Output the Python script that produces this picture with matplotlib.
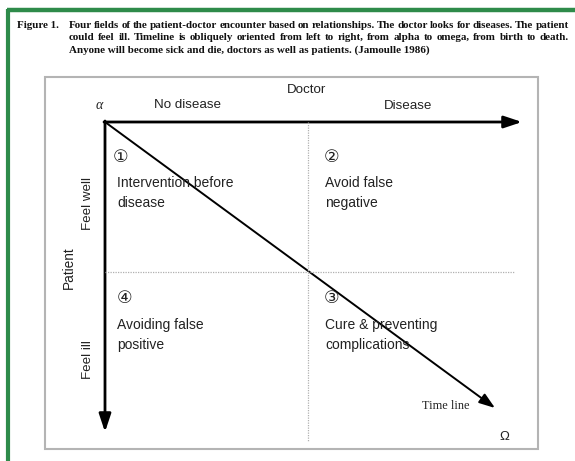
import matplotlib
matplotlib.use("Agg")
import matplotlib.pyplot as plt
from matplotlib.patches import FancyArrowPatch, Rectangle

# ---- content ----
caption_label = "Figure 1."
caption_lines = [
    "Four fields of the patient-doctor encounter based on relationships. The doctor looks for diseases. The patient",
    "could feel ill. Timeline is obliquely oriented from left to right, from alpha to omega, from birth to death.",
    "Anyone will become sick and die, doctors as well as patients. (Jamoulle 1986)",
]
x_axis_title = "Doctor"
x_categories = ["No disease", "Disease"]
y_axis_title = "Patient"
y_categories = ["Feel well", "Feel ill"]
quadrant_numbers = ["\u2460", "\u2461", "\u2463", "\u2462"]   # TL, TR, BL, BR
quadrant_texts = [
    ["Intervention before", "disease"],
    ["Avoid false", "negative"],
    ["Avoiding false", "positive"],
    ["Cure & preventing", "complications"],
]
timeline_label = "Time line"
start_symbol = "\u03b1"
end_symbol = "\u03a9"

W, H = 575, 461
fig = plt.figure(figsize=(W / 100, H / 100), dpi=100)
ax = fig.add_axes([0, 0, 1, 1])
ax.set_xlim(0, W)
ax.set_ylim(H, 0)
ax.axis("off")

SANS = ["Liberation Sans", "DejaVu Sans"]
SERIF = ["Liberation Serif", "DejaVu Serif"]

# green frame (top and left)
green = "#2e8b4a"
ax.plot([7, W], [10.5, 10.5], color=green, lw=3.2, solid_capstyle="butt")
ax.plot([7.5, 7.5], [9, H], color=green, lw=3.0, solid_capstyle="butt")

# caption
cap_fs = 7.9
ax.text(17, 28, caption_label, fontsize=cap_fs, fontweight="bold", family=SERIF,
        va="baseline", ha="left", color="#111111")
fig.canvas.draw()
renderer = fig.canvas.get_renderer()


def text_width(s):
    t = ax.text(0, 0, s, fontsize=cap_fs, fontweight="bold", family=SERIF)
    bb = t.get_window_extent(renderer=renderer)
    t.remove()
    return bb.width  # pixels == data units here


x0, x1 = 69, 569
baselines = [28, 40.5, 53]
for i, line in enumerate(caption_lines):
    if i < len(caption_lines) - 1:
        words = line.split(" ")
        widths = [text_width(w) for w in words]
        gap = max((x1 - x0 - sum(widths)) / (len(words) - 1), 1.5)
        x = x0
        for w, wd in zip(words, widths):
            ax.text(x, baselines[i], w, fontsize=cap_fs, fontweight="bold", family=SERIF,
                    va="baseline", ha="left", color="#111111")
            x += wd + gap
    else:
        ax.text(x0, baselines[i], line, fontsize=cap_fs, fontweight="bold", family=SERIF,
                va="baseline", ha="left", color="#111111")

# inner box
ax.add_patch(Rectangle((45, 77), 538 - 45, 449 - 77, fill=False, ec="#b4b4b4", lw=1.5))

# origin / geometry
ox, oy = 105, 122
mx, my = 308, 272

# dotted dividers
ax.plot([mx, mx], [oy, 442], color="#b0b0b0", lw=0.9, ls=(0, (1, 1)))
ax.plot([ox, 515], [my, my], color="#b0b0b0", lw=0.9, ls=(0, (1, 1)))

# axis arrows
arrow_kw = dict(arrowstyle="-|>,head_length=0.9,head_width=0.3", color="black", lw=2.0,
                shrinkA=0, shrinkB=0, mutation_scale=12)
ax.add_patch(FancyArrowPatch((ox - 1, oy), (522, oy), **arrow_kw))
ax.add_patch(FancyArrowPatch((ox, oy - 1), (ox, 432), **arrow_kw))
# timeline
ax.add_patch(FancyArrowPatch((ox, oy), (495, 408),
                             arrowstyle="-|>,head_length=0.8,head_width=0.28", color="black",
                             lw=1.4, shrinkA=0, shrinkB=0, mutation_scale=12))

# headings
tc = "#222222"
ax.text(307, 90, x_axis_title, fontsize=9.6, family=SANS, ha="center", va="center", color=tc)
ax.text(188, 105, x_categories[0], fontsize=9.6, family=SANS, ha="center", va="center", color=tc)
ax.text(408, 106, x_categories[1], fontsize=9.6, family=SANS, ha="center", va="center", color=tc)
ax.text(69, 268, y_axis_title, fontsize=9.8, family=SANS, ha="center", va="center", rotation=90, color=tc)
ax.text(88, 203, y_categories[0], fontsize=9.6, family=SANS, ha="center", va="center", rotation=90, color=tc)
ax.text(88, 360, y_categories[1], fontsize=9.6, family=SANS, ha="center", va="center", rotation=90, color=tc)
ax.text(99, 105, start_symbol, fontsize=10, family=SERIF, style="italic", ha="center", va="center", color=tc)
ax.text(504, 437, end_symbol, fontsize=9.5, family=SANS, ha="center", va="center", color=tc)
ax.text(446, 406, timeline_label, fontsize=8.8, family=SERIF, ha="center", va="center", color=tc)

# quadrants
num_pos = [(121, 157), (332, 157), (125, 298), (332, 298)]
txt_pos = [(117, 183), (325, 183), (117, 325), (325, 325)]
for num, (nx, ny), lines, (tx, ty) in zip(quadrant_numbers, num_pos, quadrant_texts, txt_pos):
    ax.text(nx, ny, num, fontsize=12.5, family=["DejaVu Sans"], ha="center", va="center", color=tc)
    for k, ln in enumerate(lines):
        ax.text(tx, ty + 20 * k, ln, fontsize=10, family=SANS, ha="left", va="center", color=tc)

fig.savefig("out.png", dpi=100)
